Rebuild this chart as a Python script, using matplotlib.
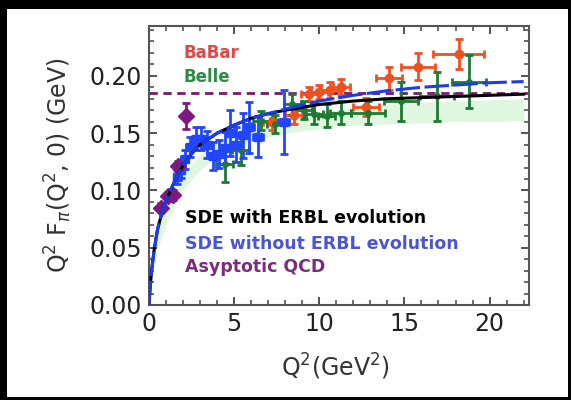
import matplotlib
matplotlib.use("Agg")
import matplotlib.pyplot as plt
from matplotlib.patches import Rectangle

# BaBar points (Q^2, Q^2 F)
babar_x = [7.2, 8.5, 9.4, 10.0, 10.6, 11.3, 12.75, 14.1, 15.8, 18.2]
babar_y = [0.160, 0.166, 0.184, 0.186, 0.188, 0.190, 0.173, 0.198, 0.208, 0.219]
babar_yerr = [0.007, 0.008, 0.006, 0.006, 0.007, 0.007, 0.008, 0.010, 0.012, 0.013]
babar_xerr = [0.5, 0.5, 0.5, 0.5, 0.5, 0.5, 0.75, 0.75, 1.0, 1.5]

# Belle points
belle_x = [4.45, 5.4, 6.6, 7.4, 8.4, 9.1, 9.7, 10.45, 11.25, 12.85, 14.8, 16.9, 18.8]
belle_y = [0.123, 0.135, 0.161, 0.158, 0.175, 0.170, 0.167, 0.165, 0.168, 0.168, 0.178, 0.182, 0.195]
belle_yerr = [0.016, 0.013, 0.008, 0.008, 0.009, 0.008, 0.009, 0.010, 0.010, 0.010, 0.017, 0.021, 0.023]
belle_xerr = [0.5, 0.5, 0.5, 0.5, 0.5, 0.5, 0.5, 0.5, 0.6, 1.0, 1.0, 1.0, 1.0]

# CLEO points
cleo_x = [1.65, 1.85, 2.1, 2.4, 2.75, 3.05, 3.4, 3.75, 4.1, 4.45, 4.75, 5.1, 5.5, 5.9, 6.4, 7.9]
cleo_y = [0.112, 0.118, 0.127, 0.138, 0.145, 0.145, 0.140, 0.130, 0.132, 0.137, 0.150, 0.140, 0.148, 0.155, 0.147, 0.160]
cleo_yerr = [0.006, 0.007, 0.008, 0.009, 0.010, 0.010, 0.012, 0.012, 0.012, 0.014, 0.020, 0.015, 0.020, 0.022, 0.018, 0.028]
cleo_xerr = [0.2, 0.2, 0.2, 0.25, 0.25, 0.25, 0.25, 0.25, 0.25, 0.25, 0.25, 0.25, 0.25, 0.25, 0.3, 0.3]

# CELLO points
cello_x = [0.7, 1.1, 1.4, 1.7, 2.15]
cello_y = [0.085, 0.095, 0.096, 0.121, 0.165]
cello_yerr = [0.004, 0.004, 0.004, 0.005, 0.011]

# SDE curves
sde_x = [0, 0.05, 0.15, 0.3, 0.5, 0.75, 1.0, 1.5, 2.0, 2.5, 3, 4, 5, 6, 7, 8,
         10, 12, 14, 16, 18, 20, 22]
sde_erbl = [0, 0.012, 0.030, 0.048, 0.066, 0.080, 0.091, 0.108, 0.122, 0.132, 0.140,
            0.150, 0.157, 0.163, 0.167, 0.170, 0.175, 0.178, 0.180, 0.181, 0.182, 0.183, 0.184]
sde_noerbl = [0, 0.012, 0.030, 0.048, 0.066, 0.080, 0.091, 0.108, 0.122, 0.132, 0.140,
              0.150, 0.157, 0.163, 0.167, 0.171, 0.178, 0.183, 0.187, 0.190, 0.192, 0.194, 0.195]

# band around the evolved curve
band_x = [0.3, 0.5, 1, 1.5, 2, 3, 4, 5, 6, 8, 10, 12, 14, 16, 18, 20, 22]
band_lo = [0.032, 0.048, 0.070, 0.088, 0.101, 0.118, 0.130, 0.138, 0.143, 0.150,
           0.154, 0.157, 0.158, 0.159, 0.160, 0.160, 0.161]
band_hi = [0.050, 0.065, 0.088, 0.103, 0.115, 0.131, 0.142, 0.150, 0.156, 0.164,
           0.169, 0.172, 0.175, 0.177, 0.178, 0.179, 0.180]

asym = 0.185

fig = plt.figure(figsize=(5.71, 4.0), dpi=100)
ax = fig.add_axes([0.261, 0.2375, 0.665, 0.6975])

ax.fill_between(band_x, band_lo, band_hi, color="#dff7df", lw=0, zorder=1)
ax.axhline(asym, color="#7a1a6e", lw=2, ls=(0, (3, 2)), zorder=2)

eb = dict(elinewidth=2, capsize=3, capthick=2, zorder=3)
ax.errorbar(babar_x, babar_y, yerr=babar_yerr, xerr=babar_xerr, fmt="o", ms=6,
            color="#f0501e", **eb)
ax.errorbar(belle_x, belle_y, yerr=belle_yerr, xerr=belle_xerr, fmt="o", ms=4,
            color="#1e7a32", **eb)
ax.errorbar(cleo_x, cleo_y, yerr=cleo_yerr, xerr=cleo_xerr, fmt="s", ms=6,
            color="#2246ff", **eb)
ax.errorbar(cello_x, cello_y, yerr=cello_yerr, xerr=0.15, fmt="D", ms=8,
            color="#7d1a7d", **eb)

ax.plot(sde_x, sde_erbl, color="black", lw=2.2, zorder=5)
ax.plot(sde_x, sde_noerbl, color="#1a3cf0", lw=2.2, ls=(0, (8, 1.5)), zorder=6)

ax.set_xlim(0, 22.3)
ax.set_ylim(0, 0.2435)
ax.set_xticks([0, 5, 10, 15, 20])
ax.set_xticks(range(0, 23), minor=True)
ax.set_yticks([0.0, 0.05, 0.10, 0.15, 0.20])
ax.set_yticks([i * 0.01 for i in range(25)], minor=True)
ax.set_yticklabels(["0.00", "0.05", "0.10", "0.15", "0.20"])
ax.tick_params(which="both", direction="in", top=True, right=True,
               colors="#444", labelcolor="#222", labelsize=17)
ax.tick_params(which="major", length=6, width=1.3, pad=5)
ax.tick_params(which="minor", length=3.5, width=1.1)
for s in ax.spines.values():
    s.set_color("#555")
    s.set_linewidth(1.5)

tk = dict(transform=ax.transAxes, fontweight="bold", va="center", ha="left")
ax.text(0.092, 0.903, "BaBar", color="#e04848", fontsize=12, **tk)
ax.text(0.092, 0.817, "Belle", color="#2e8b46", fontsize=12, **tk)
ax.text(0.095, 0.312, "SDE with ERBL evolution", color="black", fontsize=12.5, **tk)
ax.text(0.095, 0.219, "SDE without ERBL evolution", color="#4a55d0", fontsize=12.5, **tk)
ax.text(0.095, 0.136, "Asyptotic QCD", color="#7b2d7b", fontsize=12.5, **tk)

fig.text(0.102, 0.5875, r"Q$^2$ F$_\pi$(Q$^2$, 0) (GeV)", rotation=90,
         ha="center", va="center", fontsize=17, color="#333")
fig.text(0.588, 0.0825, r"Q$^2$(GeV$^2$)", ha="center", va="center",
         fontsize=17, color="#333")

# black frame round the picture
frame = [(0, 0, 0.0123, 1), (0, 1 - 0.0225, 1, 0.0225),
         (1 - 0.005, 0, 0.005, 1), (0, 0, 1, 0.0075)]
for x0, y0, w, h in frame:
    fig.patches.append(Rectangle((x0, y0), w, h, transform=fig.transFigure,
                                 color="black", lw=0, zorder=10))

fig.savefig("out.png", dpi=100)
